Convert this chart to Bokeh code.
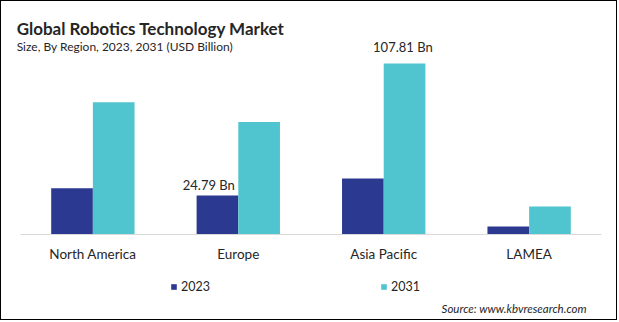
from bokeh.plotting import figure
from bokeh.models import ColumnDataSource, FactorRange, Range1d, Legend, LegendItem, LabelSet, Label
from bokeh.core.properties import value
from bokeh.transform import dodge
from bokeh.embed import file_html
from bokeh.resources import INLINE

regions = ["North America", "Europe", "Asia Pacific", "LAMEA"]
years = ["2023", "2031"]
values_2023 = [29.3, 24.79, 35.4, 5.2]
values_2031 = [83.4, 71.0, 107.81, 17.8]
label_texts = ["24.79  Bn", "107.81  Bn"]
label_regions = ["Europe", "Asia Pacific"]
label_series = ["2023", "2031"]
label_values = [24.79, 107.81]

C23 = "#2b3990"
C31 = "#50c4cf"
TXT = "#262626"
FONT = "Lato"
BAR_W = 0.2866
OFF = 0.1433
PX = 1.59          # pixels per billion
BASE = 233.3       # baseline position from top of canvas, px
H = 320

src = ColumnDataSource(dict(region=regions, v23=values_2023, v31=values_2031))

p = figure(width=617, height=H,
           x_range=FactorRange(*regions, range_padding=0.1145, range_padding_units="absolute"),
           y_range=Range1d(-(H - BASE) / PX, BASE / PX),
           output_backend="svg", toolbar_location=None,
           min_border_left=2, min_border_right=0, min_border_top=0, min_border_bottom=0)
p.styles = {"border": "1px solid #000000"}

r23 = p.vbar(x=dodge("region", -OFF, range=p.x_range), top="v23", width=BAR_W, source=src,
             color=C23, line_color=None)
r31 = p.vbar(x=dodge("region", OFF, range=p.x_range), top="v31", width=BAR_W, source=src,
             color=C31, line_color=None)

# value labels
lx = [regions.index(r) + 0.5 + (-OFF if s == "2023" else OFF) for r, s in zip(label_regions, label_series)]
lsrc = ColumnDataSource(dict(x=lx, y=label_values, text=label_texts, dx=[-7, 0], dy=[5, 11]))
labels = LabelSet(x="x", y="y", text="text", source=lsrc, x_offset="dx", y_offset="dy",
                  text_font=value(FONT), text_font_size="13px", text_color=TXT,
                  text_align="center", text_baseline="alphabetic")
p.add_layout(labels)

# titles
p.add_layout(Label(x=0, y=0, x_offset=-3.5, y_offset=BASE - 27, text="Global Robotics Technology Market",
                   text_font=FONT, text_font_size="17px", text_font_style="bold", text_color=TXT,
                   text_baseline="alphabetic"))
p.add_layout(Label(x=0, y=0, x_offset=-3.5, y_offset=BASE - 45, text="Size, By Region, 2023, 2031 (USD Billion)",
                   text_font=FONT, text_font_size="12px", text_color=TXT, text_baseline="alphabetic"))

p.yaxis.visible = False
p.xgrid.visible = False
p.ygrid.visible = False
p.outline_line_color = None
p.xaxis.fixed_location = 0
p.xaxis.bounds = (0, 4)
p.xaxis.axis_line_color = "#d9d9d9"
p.xaxis.axis_line_width = 1
p.xaxis.major_tick_line_color = None
p.xaxis.minor_tick_line_color = None
p.xaxis.major_label_text_font = FONT
p.xaxis.major_label_text_font_size = "13.5px"
p.xaxis.major_label_text_color = TXT
p.xaxis.major_label_standoff = 5

legend = Legend(items=[LegendItem(label=years[0], renderers=[r23]), LegendItem(label=years[1], renderers=[r31])],
                orientation="horizontal", location=(167, 27), spacing=170, glyph_width=7, glyph_height=7,
                label_standoff=4, label_text_font=FONT, label_text_font_size="12.5px",
                label_text_color=TXT, border_line_color=None, background_fill_alpha=0,
                padding=0, margin=0)
p.add_layout(legend)

source_note = Label(x=3.5, y=0, x_offset=57.5, y_offset=-(307 - BASE), text="Source: www.kbvresearch.com",
                    text_align="right", text_baseline="alphabetic", text_font=FONT, text_font_size="11.5px",
                    text_font_style="italic", text_color=TXT)
p.add_layout(source_note)

open("out.html", "w").write(file_html(p, INLINE))
